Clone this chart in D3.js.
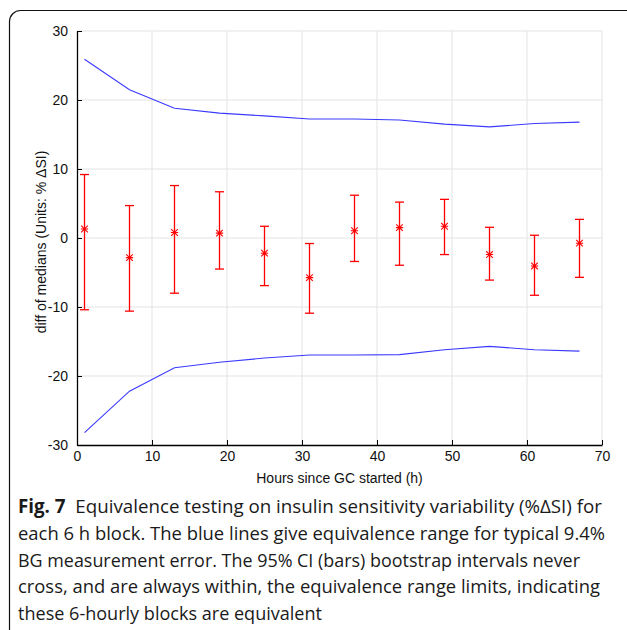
<!DOCTYPE html>
<html>
<head>
<meta charset="utf-8">
<script src="https://cdn.jsdelivr.net/npm/d3@7"></script>
<style>
  body { margin: 0; background: #fff; }
  svg { display: block; }
</style>
</head>
<body>
<div id="chart-area"></div>
<script>
// data
var hours = [1, 7, 13, 19, 25, 31, 37, 43, 49, 55, 61, 67];
var medians = [1.3, -2.85, 0.8, 0.7, -2.2, -5.75, 1.05, 1.5, 1.7, -2.4, -4.05, -0.75];
var ciUpper = [9.2, 4.7, 7.6, 6.7, 1.7, -0.8, 6.2, 5.2, 5.6, 1.55, 0.4, 2.7];
var ciLower = [-10.4, -10.6, -8.0, -4.5, -6.9, -10.9, -3.4, -3.95, -2.4, -6.1, -8.3, -5.7];
var equivUpper = [25.9, 21.5, 18.8, 18.1, 17.7, 17.25, 17.25, 17.1, 16.5, 16.1, 16.6, 16.8];
var equivLower = [-28.2, -22.2, -18.8, -18.0, -17.4, -16.95, -16.95, -16.9, -16.2, -15.7, -16.2, -16.4];
var xTicks = [0, 10, 20, 30, 40, 50, 60, 70];
var yTicks = [-30, -20, -10, 0, 10, 20, 30];
var captionLines = [
  ["Fig. 7", "  Equivalence testing on insulin sensitivity variability (%\u0394SI) for"],
  ["", "each 6 h block. The blue lines give equivalence range for typical 9.4%"],
  ["", "BG measurement error. The 95% CI (bars) bootstrap intervals never"],
  ["", "cross, and are always within, the equivalence range limits, indicating"],
  ["", "these 6-hourly blocks are equivalent"]
];

var W = 627, H = 630;
var margin = {left: 77, top: 31, right: 25, bottom: 185};
var width = W - margin.left - margin.right;
var height = H - margin.top - margin.bottom;
var axisFont = "Liberation Sans, Arial, Helvetica, sans-serif";

var svg = d3.select("#chart-area").append("svg")
    .attr("width", W).attr("height", H);

// frame round figure
svg.append("rect")
    .attr("x", 9.5).attr("y", 10.5)
    .attr("width", 640).attr("height", 640)
    .attr("rx", 11)
    .attr("fill", "none").attr("stroke", "#111").attr("stroke-width", 1.2);

var x = d3.scaleLinear().domain([0, 70]).range([0, width]);
var y = d3.scaleLinear().domain([-30, 30]).range([height, 0]);

var g = svg.append("g")
    .attr("transform", "translate(" + margin.left + "," + margin.top + ")");

// grid
g.selectAll(".vgrid").data(xTicks.slice(1)).enter().append("line")
    .attr("x1", d => x(d)).attr("x2", d => x(d))
    .attr("y1", 0).attr("y2", height)
    .attr("stroke", "#e3e3e3").attr("stroke-width", 1);
g.selectAll(".hgrid").data(yTicks.slice(1)).enter().append("line")
    .attr("x1", 0).attr("x2", width)
    .attr("y1", d => y(d)).attr("y2", d => y(d))
    .attr("stroke", "#e3e3e3").attr("stroke-width", 1);

// axes (MATLAB style, inward ticks, plain hyphen minus)
var fmt = d => String(d);
var bottomAxis = d3.axisBottom(x).tickValues(xTicks).tickFormat(fmt)
    .tickSizeInner(-5).tickSizeOuter(0).tickPadding(10);
var gx = g.append("g").attr("transform", "translate(0," + height + ")").call(bottomAxis);
var leftAxis = d3.axisLeft(y).tickValues(yTicks).tickFormat(fmt)
    .tickSizeInner(-5).tickSizeOuter(0).tickPadding(9);
var gy = g.append("g").call(leftAxis);
[gx, gy].forEach(function(a) {
  a.attr("font-family", axisFont).attr("font-size", 14);
  a.select(".domain").attr("stroke", "#000").attr("stroke-width", 1.3);
  a.selectAll(".tick line").attr("stroke", "#000");
  a.selectAll("text").attr("fill", "#111");
});
gx.selectAll("text").attr("dy", "0.45em");

// equivalence range lines
var line = d3.line().x((d, i) => x(hours[i])).y(d => y(d));
[equivUpper, equivLower].forEach(function(s) {
  g.append("path").datum(s).attr("d", line)
    .attr("fill", "none").attr("stroke", "#3a3aff").attr("stroke-width", 1.1);
});

// error bars
var red = "#ff0000";
var cap = 4.5;
var bars = g.selectAll(".bar").data(hours).enter().append("g");
bars.append("line")
    .attr("x1", d => x(d)).attr("x2", d => x(d))
    .attr("y1", (d, i) => y(ciUpper[i])).attr("y2", (d, i) => y(ciLower[i]))
    .attr("stroke", red).attr("stroke-width", 1.3);
bars.append("line")
    .attr("x1", d => x(d) - cap).attr("x2", d => x(d) + cap)
    .attr("y1", (d, i) => y(ciUpper[i])).attr("y2", (d, i) => y(ciUpper[i]))
    .attr("stroke", red).attr("stroke-width", 1.3);
bars.append("line")
    .attr("x1", d => x(d) - cap).attr("x2", d => x(d) + cap)
    .attr("y1", (d, i) => y(ciLower[i])).attr("y2", (d, i) => y(ciLower[i]))
    .attr("stroke", red).attr("stroke-width", 1.3);

// MATLAB-like '*' marker: 8 spokes
var matlabStar = {
  draw: function(ctx, size) {
    var r = Math.sqrt(size) / 2, d = r * 0.72;
    ctx.moveTo(0, -r); ctx.lineTo(0, r);
    ctx.moveTo(-d, -d); ctx.lineTo(d, d);
    ctx.moveTo(-d, d); ctx.lineTo(d, -d);
    ctx.moveTo(-r * 0.8, 0); ctx.lineTo(r * 0.8, 0);
  }
};
var star = d3.symbol().type(matlabStar).size(84);
g.selectAll(".med").data(medians).enter().append("path")
    .attr("d", star)
    .attr("transform", (d, i) => "translate(" + x(hours[i]) + "," + y(d) + ")")
    .attr("fill", "none").attr("stroke", red).attr("stroke-width", 1.1);

// axis labels
g.append("text")
    .attr("x", width / 2).attr("y", height + 38)
    .attr("text-anchor", "middle")
    .attr("font-family", axisFont).attr("font-size", 14)
    .attr("fill", "#111")
    .text("Hours since GC started (h)");
g.append("text")
    .attr("transform", "translate(" + (-31) + "," + (height / 2 + 4) + ") rotate(-90)")
    .attr("text-anchor", "middle")
    .attr("font-family", axisFont).attr("font-size", 14)
    .attr("fill", "#111")
    .text("diff of medians (Units: % \u0394SI)");

// caption
var capWidths = [584, 587, 562, 582, 304];
captionLines.forEach(function(l, i) {
  var t = svg.append("text")
      .attr("x", 18).attr("y", 513 + i * 26.8)
      .attr("textLength", capWidths[i]).attr("lengthAdjust", "spacingAndGlyphs")
      .attr("font-family", "Open Sans, sans-serif").attr("font-size", 19)
      .attr("fill", "#1a1a1a").attr("xml:space", "preserve");
  if (l[0]) t.append("tspan").attr("font-weight", "bold").text(l[0]);
  t.append("tspan").text(l[1]);
});
</script>
</body>
</html>
